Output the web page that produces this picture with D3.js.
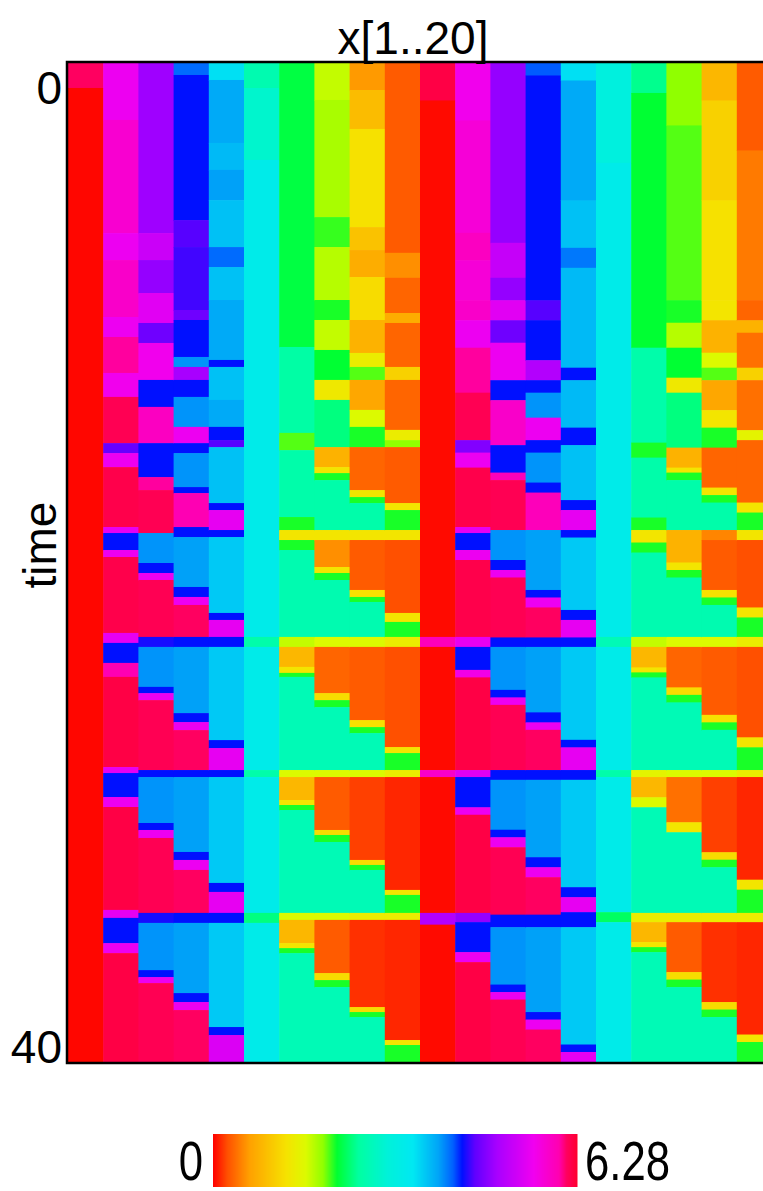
<!DOCTYPE html>
<html>
<head>
<meta charset="utf-8">
<script src="https://cdn.jsdelivr.net/npm/d3@7"></script>
<style>
  body { margin: 0; background: #fff; }
  svg { display: block; }
  text { font-family: "Liberation Sans", Arial, Helvetica, sans-serif; fill: #000; }
</style>
</head>
<body>
<div id="chart"></div>
<script>
// oscillators on the x axis, time on the y axis
const columns = [1, 2, 3, 4, 5, 6, 7, 8, 9, 10, 11, 12, 13, 14, 15, 16, 17, 18, 19, 20];
const yTicks = [0, 40];
const cbarTicks = [0, 6.28];

// phase of each oscillator, as runs [time where the run starts, phase]
const x01 = [[0, 6.1], [1.0, 0.02]];
const x02 = [[0, 5.5], [2.28, 5.75], [6.81, 5.5], [7.89, 5.8], [10.17, 5.5], [10.97, 6.0], [12.41, 5.55], [13.37, 6.15], [15.22, 4.55], [15.62, 5.5], [16.18, 6.18], [18.58, 5.45], [18.82, 4.3], [19.5, 5.5], [19.78, 6.18], [22.82, 5.45], [23.22, 4.3], [24.02, 5.95], [24.58, 6.2], [28.19, 5.45], [28.43, 4.3], [29.39, 5.5], [29.79, 6.2], [33.91, 5.45], [34.23, 4.3], [35.24, 5.5], [35.64, 6.2]];
const x03 = [[0, 4.85], [6.81, 5.2], [7.89, 4.8], [9.21, 5.4], [10.41, 4.6], [11.21, 5.55], [12.69, 4.3], [13.77, 5.85], [15.22, 4.3], [16.58, 6.0], [17.1, 6.15], [18.82, 3.95], [20.02, 4.3], [20.42, 5.5], [20.7, 6.15], [22.98, 4.35], [23.38, 3.95], [24.98, 4.3], [25.23, 5.5], [25.51, 6.15], [28.31, 4.3], [28.59, 3.95], [30.43, 4.3], [30.71, 5.5], [31.03, 6.15], [34.03, 4.35], [34.43, 3.95], [36.32, 4.3], [36.6, 5.5], [36.84, 6.15]];
const x04 = [[0, 4.1], [0.48, 4.3], [6.29, 4.5], [7.37, 4.45], [9.89, 4.6], [10.29, 4.3], [11.77, 3.95], [12.17, 4.9], [12.69, 4.3], [13.37, 3.95], [14.57, 5.5], [15.22, 4.3], [15.62, 3.95], [16.98, 4.3], [17.22, 5.95], [18.58, 4.3], [18.98, 3.9], [20.98, 4.3], [21.38, 5.5], [21.7, 6.1], [22.98, 4.3], [23.38, 3.9], [26.03, 4.3], [26.39, 5.5], [26.71, 6.1], [28.31, 4.3], [28.59, 3.9], [31.59, 4.3], [31.91, 5.5], [32.31, 6.1], [34.03, 4.3], [34.43, 3.9], [37.24, 4.3], [37.6, 5.5], [37.92, 6.1]];
const x05 = [[0, 3.5], [0.68, 3.85], [3.2, 3.75], [4.28, 3.9], [5.49, 3.7], [7.37, 4.1], [8.17, 3.7], [9.49, 3.85], [11.89, 4.3], [12.17, 3.7], [13.49, 3.85], [14.57, 4.3], [15.1, 4.5], [15.38, 3.7], [17.62, 4.3], [17.9, 5.45], [18.7, 4.3], [18.98, 3.65], [22.02, 4.3], [22.3, 5.45], [22.98, 4.3], [23.38, 3.65], [27.11, 4.3], [27.43, 5.45], [28.31, 4.3], [28.59, 3.65], [32.83, 4.3], [33.19, 5.45], [34.03, 4.3], [34.43, 3.65], [38.6, 4.3], [38.92, 5.35]];
const x06 = [[0, 2.65], [1.0, 2.9], [3.88, 3.3], [22.98, 2.6], [23.38, 3.3], [28.31, 2.6], [28.59, 3.3], [34.03, 2.4], [34.43, 3.3]];
const x07 = [[0, 2.2], [11.37, 2.55], [14.81, 2.0], [15.5, 2.6], [18.18, 2.1], [18.7, 1.3], [19.1, 2.1], [19.5, 2.65], [22.98, 1.7], [23.38, 0.85], [24.18, 1.3], [24.42, 2.1], [24.58, 2.7], [28.31, 1.6], [28.59, 0.85], [29.51, 1.3], [29.71, 2.1], [29.91, 2.7], [34.03, 1.6], [34.31, 0.85], [35.24, 1.3], [35.44, 2.1], [35.64, 2.7]];
const x08 = [[0, 1.7], [1.48, 1.8], [6.17, 2.05], [7.37, 1.75], [9.49, 2.1], [10.29, 1.7], [11.49, 2.15], [12.69, 1.35], [13.49, 2.4], [15.38, 0.8], [16.18, 1.3], [16.42, 2.1], [16.7, 2.6], [18.7, 1.3], [19.1, 0.55], [20.18, 1.3], [20.42, 2.1], [20.7, 2.65], [22.98, 1.6], [23.38, 0.35], [25.23, 1.2], [25.51, 2.1], [25.79, 2.7], [28.31, 1.6], [28.59, 0.3], [30.71, 1.2], [30.91, 2.1], [31.19, 2.7], [34.03, 1.6], [34.31, 0.3], [36.44, 1.2], [36.72, 2.1], [37.0, 2.7]];
const x09 = [[0, 0.6], [1.08, 0.9], [2.64, 1.25], [6.57, 0.95], [7.49, 0.75], [8.57, 1.2], [10.29, 0.8], [11.61, 1.4], [12.17, 2.0], [12.69, 0.7], [13.89, 1.6], [14.57, 2.1], [15.38, 0.35], [17.1, 1.3], [17.38, 2.1], [17.62, 2.6], [18.7, 1.3], [19.1, 0.3], [21.1, 1.25], [21.38, 2.1], [21.58, 2.65], [22.98, 1.6], [23.38, 0.3], [26.31, 1.25], [26.59, 2.1], [26.83, 2.7], [28.31, 1.6], [28.59, 0.2], [31.91, 1.2], [32.11, 2.1], [32.31, 2.7], [34.03, 1.4], [34.31, 0.15], [37.8, 1.2], [38.0, 2.1], [38.2, 2.7]];
const x10 = [[0, 0.3], [7.6, 0.55], [8.6, 0.35], [10.01, 0.75], [10.41, 0.35], [12.17, 1.1], [12.69, 0.35], [14.69, 1.4], [15.1, 1.9], [15.38, 0.3], [17.62, 1.3], [17.9, 2.1], [18.7, 1.3], [19.1, 0.25], [22.02, 1.3], [22.38, 2.1], [22.98, 1.4], [23.38, 0.25], [27.39, 1.3], [27.63, 2.1], [28.31, 1.4], [28.59, 0.12], [33.11, 1.3], [33.31, 2.1], [34.03, 1.4], [34.31, 0.12], [39.12, 1.3], [39.32, 2.1]];
const x11 = [[0, 6.2], [1.5, 0.03], [22.98, 5.9], [23.38, 0.03], [28.31, 5.8], [28.59, 0.03], [34.03, 5.0], [34.5, 0.03]];
const x12 = [[0, 5.55], [2.3, 5.7], [6.8, 5.85], [7.9, 5.7], [9.5, 5.8], [10.3, 5.5], [11.4, 6.0], [13.2, 6.15], [15.1, 4.7], [15.6, 5.5], [16.2, 6.18], [18.58, 5.45], [18.82, 4.3], [19.5, 5.5], [19.9, 6.18], [22.98, 5.45], [23.38, 4.3], [24.3, 5.6], [24.6, 6.2], [28.31, 5.4], [28.59, 4.3], [29.8, 5.5], [30.1, 6.2], [34.03, 4.8], [34.4, 4.3], [35.6, 5.5], [36.0, 6.2]];
const x13 = [[0, 4.8], [7.2, 5.15], [8.6, 4.8], [9.5, 5.4], [10.3, 4.6], [11.2, 5.5], [12.7, 4.3], [13.5, 5.8], [15.3, 4.3], [16.4, 5.9], [16.7, 6.15], [18.7, 3.95], [19.9, 4.3], [20.3, 5.5], [20.6, 6.15], [23.0, 4.3], [23.38, 3.95], [25.1, 4.3], [25.4, 5.5], [25.7, 6.15], [28.31, 4.3], [28.7, 3.95], [30.7, 4.3], [31.0, 5.5], [31.4, 6.15], [34.1, 4.3], [34.6, 3.95], [36.9, 4.3], [37.2, 5.5], [37.5, 6.15]];
const x14 = [[0, 4.15], [0.5, 4.3], [9.5, 4.5], [10.3, 4.3], [11.9, 5.0], [12.7, 4.3], [13.2, 3.95], [14.2, 5.5], [15.1, 4.3], [15.6, 3.95], [16.8, 4.3], [17.2, 5.9], [18.7, 3.9], [21.1, 4.3], [21.4, 5.5], [21.8, 6.1], [23.0, 4.3], [23.38, 3.9], [26.0, 4.3], [26.4, 5.5], [26.7, 6.1], [28.31, 4.3], [28.7, 3.9], [31.8, 4.3], [32.2, 5.5], [32.6, 6.1], [34.1, 4.3], [34.6, 3.9], [38.0, 4.3], [38.3, 5.5], [38.7, 6.1]];
const x15 = [[0, 3.5], [0.7, 3.85], [5.5, 3.7], [7.4, 4.05], [8.2, 3.75], [12.2, 4.3], [12.7, 3.75], [14.6, 4.3], [15.3, 3.7], [17.5, 4.3], [17.9, 5.45], [18.7, 4.3], [19.0, 3.65], [21.9, 4.3], [22.3, 5.45], [23.0, 4.3], [23.38, 3.65], [27.1, 4.3], [27.4, 5.45], [28.31, 4.3], [28.7, 3.65], [33.0, 4.3], [33.4, 5.45], [34.0, 4.3], [34.6, 3.65], [39.3, 4.3], [39.6, 5.45]];
const x16 = [[0, 3.1], [4.0, 3.3], [22.98, 2.7], [23.38, 3.3], [28.31, 2.6], [28.59, 3.3], [34.0, 2.3], [34.4, 3.3]];
const x17 = [[0, 2.45], [1.2, 2.15], [11.4, 2.6], [15.2, 2.1], [15.8, 2.6], [18.2, 2.1], [18.7, 1.3], [19.2, 2.1], [19.6, 2.65], [22.98, 1.7], [23.38, 0.85], [24.2, 1.3], [24.4, 2.1], [24.6, 2.7], [28.31, 1.5], [28.59, 0.85], [29.4, 1.6], [29.8, 2.7], [34.03, 1.4], [34.4, 0.85], [35.2, 1.3], [35.4, 2.1], [35.6, 2.7]];
const x18 = [[0, 1.9], [2.5, 2.0], [9.5, 2.1], [10.4, 1.75], [11.4, 2.15], [12.6, 1.35], [13.2, 2.4], [15.4, 0.8], [16.2, 1.3], [16.4, 2.1], [16.7, 2.6], [18.7, 0.8], [20.0, 1.3], [20.3, 2.1], [20.6, 2.65], [22.98, 1.6], [23.38, 0.35], [25.0, 1.2], [25.3, 2.1], [25.6, 2.7], [28.31, 1.6], [28.59, 0.4], [30.4, 1.3], [30.8, 2.7], [34.03, 1.4], [34.4, 0.3], [36.4, 1.2], [36.7, 2.1], [37.0, 2.7]];
const x19 = [[0, 0.85], [1.5, 1.1], [5.5, 1.25], [9.5, 1.3], [10.3, 0.8], [11.6, 1.6], [12.2, 2.0], [12.7, 0.7], [13.9, 1.3], [14.6, 2.1], [15.4, 0.35], [17.0, 1.3], [17.3, 2.1], [17.6, 2.6], [18.7, 0.5], [19.1, 0.3], [21.1, 1.25], [21.4, 2.1], [21.7, 2.65], [22.98, 1.6], [23.38, 0.3], [26.1, 1.25], [26.4, 2.1], [26.7, 2.7], [28.31, 1.6], [28.59, 0.2], [31.6, 1.2], [31.9, 2.1], [32.2, 2.7], [34.03, 1.4], [34.4, 0.15], [37.6, 1.2], [37.9, 2.1], [38.2, 2.7]];
const x20 = [[0, 0.3], [3.5, 0.45], [9.5, 0.35], [10.3, 0.8], [10.8, 0.4], [12.2, 1.1], [12.7, 0.4], [14.7, 1.5], [15.1, 0.35], [17.6, 1.3], [18.0, 2.1], [18.7, 1.3], [19.1, 0.25], [21.8, 1.3], [22.2, 2.1], [22.98, 1.4], [23.38, 0.25], [27.0, 1.3], [27.4, 2.1], [28.31, 1.4], [28.59, 0.12], [32.7, 1.3], [33.1, 2.1], [34.03, 1.4], [34.4, 0.12], [38.9, 1.3], [39.2, 2.1]];

const series = [x01, x02, x03, x04, x05, x06, x07, x08, x09, x10,
                x11, x12, x13, x14, x15, x16, x17, x18, x19, x20];

// colour map: red -> yellow -> green -> cyan -> blue -> purple -> pink -> red
const phaseStops  = [0, 0.25, 0.63, 1.26, 1.6, 1.9, 2.14, 2.51, 3.0, 3.45, 3.89, 4.14, 4.3, 4.52, 4.9, 5.53, 5.97, 6.1, 6.28];
const phaseColors = ["#ff0000", "#ff5000", "#ffa000", "#f6e200", "#dcfa00", "#90ff00", "#00ff30", "#00ffa0",
                     "#00f2d8", "#00e8f2", "#00a4f8", "#0060ff", "#0010ff", "#6000ff", "#a800ff", "#f000f0",
                     "#ff00b0", "#ff0060", "#ff0030"];

const W = 763, H = 1191;
const plot = { left: 68, right: 772, top: 63, bottom: 1062 };

const svg = d3.select("#chart").append("svg")
    .attr("width", W)
    .attr("height", H);

const x = d3.scaleBand().domain(columns).range([plot.left, plot.right]);
const y = d3.scaleLinear().domain([0, 40]).range([plot.top, plot.bottom]);
const color = d3.scaleLinear().domain(phaseStops).range(phaseColors).clamp(true);

svg.append("clipPath").attr("id", "plotclip")
  .append("rect")
    .attr("x", plot.left).attr("y", plot.top)
    .attr("width", plot.right - plot.left).attr("height", plot.bottom - plot.top);

// heatmap cells, one rect per run
const cells = svg.append("g").attr("clip-path", "url(#plotclip)");
cells.selectAll("g")
  .data(series)
  .join("g")
    .attr("transform", (d, i) => `translate(${x(columns[i])},0)`)
  .selectAll("rect")
  .data(runs => runs.map((r, j) => ({ t0: r[0], t1: j + 1 < runs.length ? runs[j + 1][0] : 40, v: r[1] })))
  .join("rect")
    .attr("x", 0)
    .attr("y", d => y(d.t0))
    .attr("width", x.bandwidth() + 0.6)
    .attr("height", d => y(d.t1) - y(d.t0) + 0.6)
    .attr("fill", d => color(d.v));

// frame
svg.append("rect")
    .attr("x", plot.left - 1).attr("y", plot.top - 1)
    .attr("width", plot.right - plot.left + 2).attr("height", plot.bottom - plot.top + 2)
    .attr("fill", "none")
    .attr("stroke", "#000")
    .attr("stroke-width", 2.5);

// y axis: only the two end labels
const yAxis = svg.append("g")
    .attr("transform", `translate(${plot.left},0)`)
    .call(d3.axisLeft(y).tickValues(yTicks).tickSize(0).tickPadding(6));
yAxis.select(".domain").remove();
yAxis.selectAll("text")
    .attr("font-size", 46)
    .attr("font-family", "Liberation Sans, Arial, sans-serif")
    .attr("fill", "#000")
    .attr("dy", d => d === 0 ? "0.88em" : "0");

svg.append("text")
    .attr("x", 413).attr("y", 54)
    .attr("text-anchor", "middle")
    .attr("font-size", 46)
    .text("x[1..20]");

svg.append("text")
    .attr("transform", "translate(56,545) rotate(-90)")
    .attr("text-anchor", "middle")
    .attr("font-size", 46)
    .text("time");

// colour bar
const cb = { left: 213, right: 577, top: 1134, bottom: 1187 };
const cx = d3.scaleLinear().domain(d3.extent(cbarTicks)).range([cb.left, cb.right]);
svg.append("g").selectAll("rect")
  .data(d3.range(cb.left, cb.right))
  .join("rect")
    .attr("x", d => d)
    .attr("y", cb.top)
    .attr("width", 1.5)
    .attr("height", cb.bottom - cb.top)
    .attr("fill", d => color(cx.invert(d + 0.5)));

svg.selectAll(".cbl")
  .data(cbarTicks)
  .join("text")
    .attr("class", "cbl")
    .attr("transform", (d, i) => `translate(${i === 0 ? cx(d) - 10 : cx(d) + 8},1180) scale(0.78,1)`)
    .attr("text-anchor", (d, i) => i === 0 ? "end" : "start")
    .attr("font-size", 56)
    .text(d => d);
</script>
</body>
</html>
